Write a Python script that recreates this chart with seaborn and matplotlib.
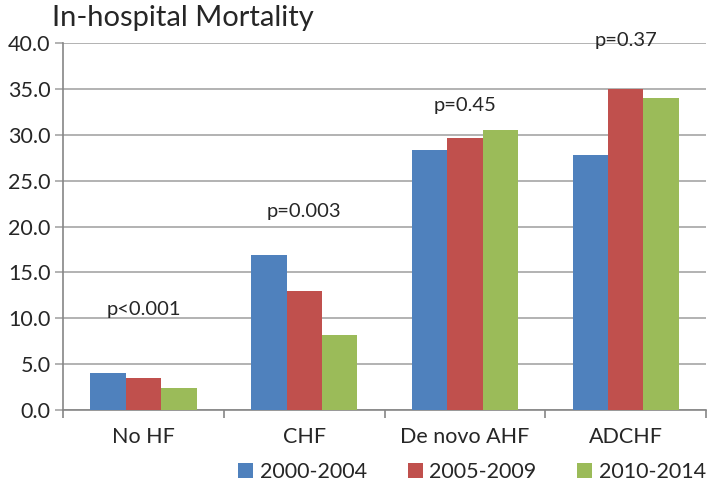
import pandas as pd
import matplotlib.pyplot as plt
import seaborn as sns
from matplotlib.ticker import FixedLocator

categories = ['No HF', 'CHF', 'De novo AHF', 'ADCHF']
periods = ['2000-2004', '2005-2009', '2010-2014']
mort_2000_2004 = [4.0, 16.9, 28.3, 27.8]
mort_2005_2009 = [3.5, 13.0, 29.7, 35.0]
mort_2010_2014 = [2.4, 8.2, 30.5, 34.0]
p_values = ['p<0.001', 'p=0.003', 'p=0.45', 'p=0.37']

rows = []
for vals, per in zip([mort_2000_2004, mort_2005_2009, mort_2010_2014], periods):
    for cat, v in zip(categories, vals):
        rows.append({'group': cat, 'period': per, 'mortality': v})
df = pd.DataFrame(rows)

sns.set_style('white')
plt.rcParams['font.family'] = ['Lato', 'DejaVu Sans']

fig = plt.figure(figsize=(7.09, 4.91), dpi=100)
ax = fig.add_axes([0.089, 0.165, 0.907, 0.747])

colors = ['#4F81BD', '#C0504D', '#9BBB59']
sns.barplot(data=df, x='group', y='mortality', hue='period', palette=colors,
            width=0.66, saturation=1, linewidth=0, ax=ax, zorder=3)

ax.set_ylim(0, 40)
ax.set_xlim(-0.5, 3.5)
ax.set_yticks(range(0, 41, 5))
ax.set_yticklabels([f'{v:.1f}' for v in range(0, 41, 5)], fontsize=15.5)
ax.grid(axis='y', color='#A6A6A6', linewidth=1.2, zorder=0)
ax.set_xlabel('')
ax.set_ylabel('')
ax.tick_params(axis='x', which='major', length=0, labelsize=15.5, pad=12)
ax.xaxis.set_minor_locator(FixedLocator([-0.5, 0.5, 1.5, 2.5, 3.5]))
ax.tick_params(axis='x', which='minor', length=6, color='#868686', width=1.2, direction='out', bottom=True)
ax.tick_params(axis='y', length=6, color='#A6A6A6', width=1.2, direction='out', left=True, pad=3)
for s in ['top', 'right']:
    ax.spines[s].set_visible(False)
for s in ['left', 'bottom']:
    ax.spines[s].set_color('#868686')
    ax.spines[s].set_linewidth(1.2)

# p-value labels above each group
p_label_y = [11.0, 21.6, 33.2, 40.3]
for i, (p, y) in enumerate(zip(p_values, p_label_y)):
    ax.text(i, y, p, ha='center', va='center', fontsize=14.5, clip_on=False)

fig.text(0.074, 0.963, 'In-hospital Mortality', fontsize=21, ha='left', va='center')

ax.legend(loc='center', bbox_to_anchor=(0.636, -0.17), ncol=3, frameon=False,
          fontsize=15.5, handlelength=0.7, handleheight=0.7, handletextpad=0.3,
          columnspacing=1.9)

fig.savefig('out.png', dpi=100)
